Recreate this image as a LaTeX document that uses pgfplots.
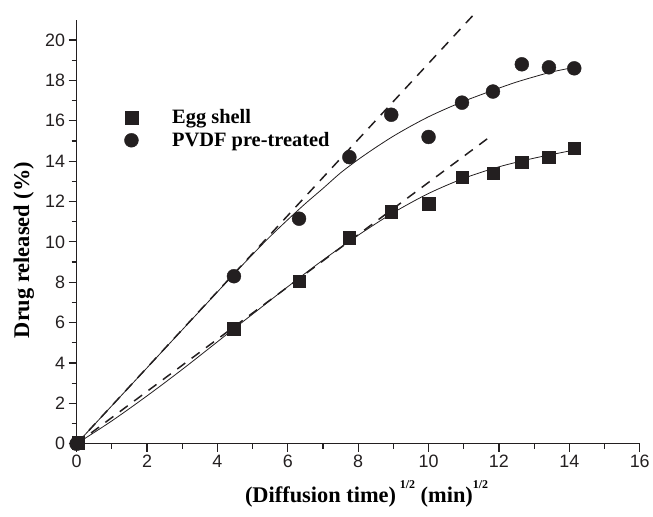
\documentclass[border=0pt]{standalone}
\usepackage{fontspec}
\setmainfont{Liberation Sans}
\newfontfamily\tnr{Liberation Serif}
\usepackage{pgfplots}
\pgfplotsset{compat=1.18}
\definecolor{ink}{RGB}{35,31,32}
\newcommand{\half}{\raisebox{0.62em}{\fontsize{12}{12}\selectfont 1/2}}

\begin{document}
\begin{tikzpicture}
\begin{axis}[
    scale only axis,
    width=566pt,
    height=426pt,
    xmin=0, xmax=16,
    ymin=0, ymax=21,
    axis lines=left,
    axis line style={-, line width=1.4pt, ink},
    xtick={0,2,...,16},
    ytick={0,2,...,20},
    minor x tick num=1,
    minor y tick num=1,
    tick align=outside,
    major tick length=8pt,
    minor tick length=5pt,
    tick style={line width=1.2pt, ink},
    ticklabel style={font=\fontsize{18}{18}\selectfont, text=ink},
    /pgf/number format/assume math mode=true,
    xlabel={\tnr\bfseries\fontsize{22.5}{22.5}\selectfont (Diffusion time)\,\half\ (min)\half},
    ylabel={\tnr\bfseries\fontsize{22.5}{22.5}\selectfont Drug released (\%)},
    xlabel style={at={(axis description cs:0.515,0)}, anchor=base, yshift=-59pt},
    ylabel style={at={(axis description cs:-0.0936,0.457)}, anchor=center},
    clip=false,
    legend style={at={(axis cs:1.27,16.75)}, anchor=north west, draw=none, fill=none,
        font=\tnr\bfseries\fontsize{20.5}{20.5}\selectfont, row sep=3pt,
        /tikz/every odd column/.append style={column sep=32pt}},
    legend cell align=left,
]
% bounding box as in the reference
\path (rel axis cs:0,0) ++(-77pt,-73pt);
\path (rel axis cs:1,1) ++(10pt,20pt);
% tangent lines
\addplot[ink, line width=1.5pt, dash pattern=on 10pt off 8pt, forget plot] coordinates {(0,0) (11.25,21.2)};
\addplot[ink, line width=1.5pt, dash pattern=on 10pt off 8pt, forget plot] coordinates {(0,0) (11.7,15.15)};
% fitted curves
\addplot[ink, line width=0.8pt, smooth, forget plot] coordinates {
    (0,0) (1,1.88) (2,3.76) (3,5.64) (4,7.52) (4.5,8.46) (5,9.38) (5.5,10.27)
    (6,11.1) (6.5,11.9) (7,12.65) (7.5,13.42) (8,14.08) (8.5,14.68) (9,15.24)
    (9.5,15.74) (10,16.2) (10.5,16.6) (11,16.97) (11.5,17.3) (12,17.62)
    (12.5,17.92) (13,18.18) (13.5,18.42) (14.14,18.65)};
\addplot[ink, line width=0.8pt, smooth, forget plot] coordinates {
    (0,0) (1,1.13) (2,2.37) (3,3.68) (4,5.05) (4.47,5.7) (5,6.42) (6,7.78)
    (7,9.1) (8,10.33) (9,11.45) (10,12.4) (11,13.15) (12,13.72) (13,14.15)
    (14.14,14.55)};
% data
\addplot[only marks, mark=*, mark size=7pt, ink, forget plot] coordinates {
    (0,0) (4.47,8.3) (6.32,11.15) (7.75,14.2) (8.94,16.3) (10,15.2)
    (10.95,16.9) (11.83,17.45) (12.65,18.8) (13.42,18.65) (14.14,18.6)};
\addplot[only marks, mark=square*, mark size=6.3pt, ink, forget plot] coordinates {
    (0.05,0.05) (4.47,5.7) (6.32,8.05) (7.75,10.2) (8.94,11.5) (10,11.9)
    (10.95,13.2) (11.83,13.4) (12.65,13.95) (13.42,14.2) (14.14,14.65)};
\addlegendimage{only marks, mark=square*, mark size=6.3pt, ink}
\addlegendentry{Egg shell}
\addlegendimage{only marks, mark=*, mark size=7pt, ink}
\addlegendentry{PVDF pre-treated}
\end{axis}
\end{tikzpicture}
\end{document}
